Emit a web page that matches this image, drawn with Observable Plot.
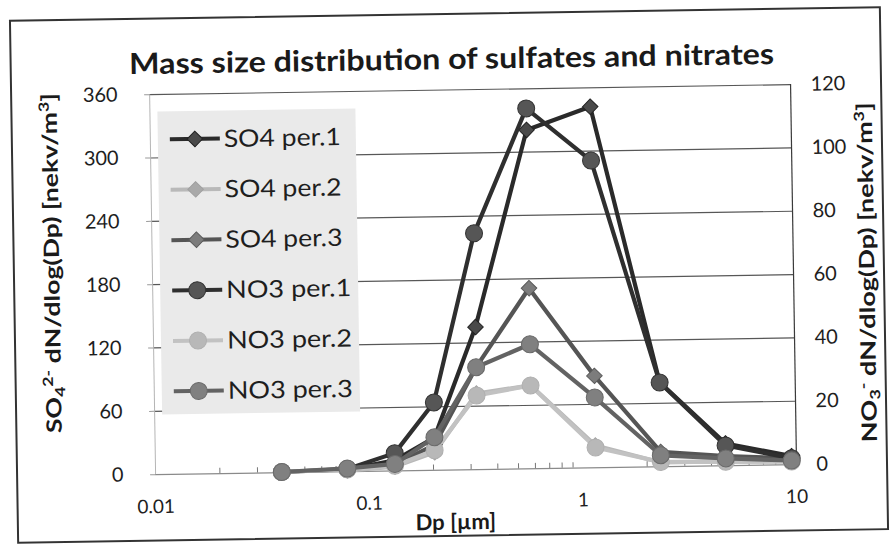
<!DOCTYPE html>
<html><head><meta charset="utf-8">
<script src="https://cdn.jsdelivr.net/npm/d3@7"></script>
<script src="https://cdn.jsdelivr.net/npm/@observablehq/plot@0.6"></script>
<style>
html,body{margin:0;padding:0;background:#fff;}
#chart{width:896px;height:551px;overflow:hidden;background:#fff;}
#chart svg{transform:rotate(-0.9deg);transform-origin:448px 275px;}
</style></head><body><div id="chart"></div>
<script>
// Particle diameter (µm) of impactor stages
const dp = [0.039, 0.079, 0.132, 0.203, 0.322, 0.577, 1.15, 2.32, 4.67, 9.5];
// Sulfates, left axis [nekv/m3]
const so4Per1 = [null, 2, 10, 31, 135, 321, 342, 80, 21, 8];
const so4Per2 = [null, 1, 4, 17, 72, 79, 21, 4, 4, 3];
const so4Per3 = [null, 2, 6, 24, 97, 171, 87, 14, 9, 6];
// Nitrates, right axis [nekv/m3]
const no3Per1 = [0.2, 0.8, 5.6, 21.4, 74.6, 113.8, 97, 26.6, 6.4, 2];
const no3Per2 = [0.2, 0.7, 1.6, 6.3, 23.4, 26.3, 6.4, 1.5, 1.2, 1];
const no3Per3 = [0.2, 1, 2.2, 10.4, 32.3, 39.3, 22.2, 3.6, 2.3, 1.3];
// Tick labels
const leftTicks = [0, 60, 120, 180, 240, 300, 360];
const rightTicks = [0, 20, 40, 60, 80, 100, 120];
const xTicks = [0.01, 0.1, 1, 10];
const xTickLabels = ["0.01", "0.1", "1", "10"];
const seriesNames = ["SO4 per.1", "SO4 per.2", "SO4 per.3", "NO3 per.1", "NO3 per.2", "NO3 per.3"];

const series = [
  {name: seriesNames[0], values: so4Per1, axis: "left", symbol: "diamond2", r: 7, stroke: "#2a2a2a", fill: "#4a4a4a", mstroke: "#222"},
  {name: seriesNames[1], values: so4Per2, axis: "left", symbol: "diamond2", r: 7, stroke: "#b9b9b9", fill: "#a9a9a9", mstroke: "#a0a0a0"},
  {name: seriesNames[2], values: so4Per3, axis: "left", symbol: "diamond2", r: 7, stroke: "#555555", fill: "#7c7c7c", mstroke: "#5a5a5a"},
  {name: seriesNames[3], values: no3Per1, axis: "right", symbol: "circle", r: 8.5, stroke: "#2f2f2f", fill: "#565656", mstroke: "#333"},
  {name: seriesNames[4], values: no3Per2, axis: "right", symbol: "circle", r: 8.5, stroke: "#c2c2c2", fill: "#b8b8b8", mstroke: "#b0b0b0"},
  {name: seriesNames[5], values: no3Per3, axis: "right", symbol: "circle", r: 8.5, stroke: "#636363", fill: "#808080", mstroke: "#6a6a6a"}
];
const rightScale = 360 / 120;

const rows = [];
series.forEach(s => s.values.forEach((v, i) => {
  if (v != null) rows.push({series: s.name, dp: dp[i], y: s.axis === "right" ? v * rightScale : v});
}));

const minor = [];
for (const d of [0.01, 0.1, 1]) for (let k = 2; k <= 9; k++) minor.push(d * k);

const font = "Lato, 'Open Sans', sans-serif";

const plot = Plot.plot({
  width: 896, height: 551,
  marginLeft: 152, marginRight: 103, marginTop: 89.5, marginBottom: 81.5,
  style: {fontFamily: font, background: "transparent", color: "#1e1e1e", overflow: "visible"},
  x: {type: "log", domain: [0.01, 10]},
  y: {domain: [0, 360]},
  marks: [
    Plot.gridY(leftTicks.slice(1), {stroke: "#3a3a3a", strokeOpacity: 0.85, strokeWidth: 1.2}),
    Plot.ruleY([0], {stroke: "#8a8a8a", strokeWidth: 1.2}),
    Plot.ruleX([0.01], {stroke: "#b5b5b5"}),
    Plot.ruleX([10], {stroke: "#3a3a3a", strokeWidth: 1.2}),
    Plot.ruleX(minor, {y1: 0, y2: 5, stroke: "#777"}),
    Plot.axisY(leftTicks, {anchor: "left", tickSize: 5, tickPadding: 27, fontSize: 20, label: null, stroke: "#999"}),
    Plot.axisY(rightTicks.map(t => t * rightScale), {anchor: "right", tickSize: 0, tickPadding: 20, fontSize: 20, label: null, tickFormat: d => String(d / rightScale)}),
    Plot.axisX(xTicks, {anchor: "bottom", tickSize: 0, tickPadding: 25, fontSize: 19, label: null, tickFormat: d => xTickLabels[xTicks.indexOf(d)]}),
    ...series.flatMap(s => {
      const data = rows.filter(r => r.series === s.name);
      return [
        Plot.line(data, {x: "dp", y: "y", stroke: s.stroke, strokeWidth: 4.2, strokeLinejoin: "round"}),
        Plot.dot(data, {x: "dp", y: "y", symbol: s.symbol, r: s.r, fill: s.fill, stroke: s.mstroke, strokeWidth: 1})
      ];
    })
  ]
});

const svg = d3.select(plot);
// outer frame
svg.insert("rect", ":first-child").attr("x", 14).attr("y", 14).attr("width", 870).attr("height", 522)
  .attr("fill", "#fff").attr("stroke", "#333").attr("stroke-width", 2);

// title
svg.append("text").attr("x", 455).attr("y", 59).attr("dy", "0.35em").attr("text-anchor", "middle")
  .attr("font-family", font).attr("font-weight", "bold").attr("font-size", 29).attr("fill", "#1a1a1a")
  .attr("textLength", 645).attr("lengthAdjust", "spacingAndGlyphs")
  .text("Mass size distribution of sulfates and nitrates");

// x axis title
svg.append("text").attr("x", 452).attr("y", 522).attr("dy", "0.35em").attr("text-anchor", "middle")
  .attr("font-family", font).attr("font-weight", "bold").attr("font-size", 22).attr("fill", "#1a1a1a")
  .text("Dp [µm]");

// left y title
const ly = svg.append("text").attr("transform", "translate(52,257) rotate(-90)").attr("text-anchor", "middle")
  .attr("dy", "0.35em").attr("font-family", font).attr("font-weight", "bold").attr("font-size", 21).attr("fill", "#1a1a1a")
  .attr("textLength", 340).attr("lengthAdjust", "spacingAndGlyphs");
ly.append("tspan").text("SO");
ly.append("tspan").attr("font-size", 14).attr("baseline-shift", "-25%").text("4");
ly.append("tspan").attr("font-size", 14).attr("baseline-shift", "55%").text("2-");
ly.append("tspan").text(" dN/dlog(Dp) [nekv/m");
ly.append("tspan").attr("font-size", 14).attr("baseline-shift", "55%").text("3");
ly.append("tspan").text("]");

// right y title
const ry = svg.append("text").attr("transform", "translate(867,279) rotate(-90)").attr("text-anchor", "middle")
  .attr("dy", "0.35em").attr("font-family", font).attr("font-weight", "bold").attr("font-size", 21).attr("fill", "#1a1a1a")
  .attr("textLength", 340).attr("lengthAdjust", "spacingAndGlyphs");
ry.append("tspan").text("NO");
ry.append("tspan").attr("font-size", 14).attr("baseline-shift", "-25%").text("3");
ry.append("tspan").attr("font-size", 14).attr("baseline-shift", "55%").text("-");
ry.append("tspan").text(" dN/dlog(Dp) [nekv/m");
ry.append("tspan").attr("font-size", 14).attr("baseline-shift", "55%").text("3");
ry.append("tspan").text("]");

// legend
const lg = svg.append("g");
lg.append("rect").attr("x", 160).attr("y", 107).attr("width", 198).attr("height", 303).attr("fill", "#eaeaea");
series.forEach((s, i) => {
  const y = 135 + i * 50.4;
  lg.append("line").attr("x1", 172).attr("x2", 222).attr("y1", y).attr("y2", y)
    .attr("stroke", s.stroke).attr("stroke-width", 4);
  const sym = s.symbol === "circle" ? d3.symbolCircle : d3.symbolDiamond2;
  lg.append("path").attr("transform", `translate(197,${y})`)
    .attr("d", d3.symbol(sym, Math.PI * s.r * s.r)())
    .attr("fill", s.fill).attr("stroke", s.mstroke);
  lg.append("text").attr("x", 226).attr("y", y).attr("dy", "0.35em").attr("text-anchor", "start")
    .attr("font-family", font).attr("font-size", 24).attr("fill", "#1e1e1e")
    .attr("textLength", s.name.startsWith("NO3") ? 125 : 117).attr("lengthAdjust", "spacingAndGlyphs")
    .text(s.name);
});

document.getElementById("chart").appendChild(plot);
</script></body></html>
